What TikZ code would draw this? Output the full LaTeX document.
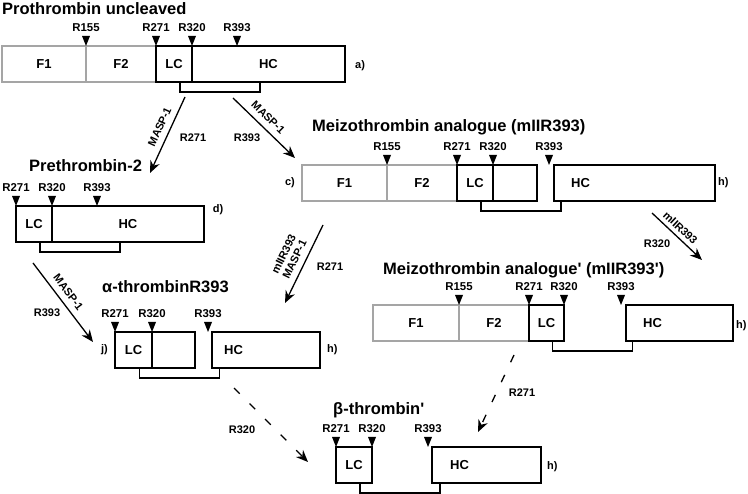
\documentclass[tikz,border=0pt]{standalone}
\usepackage{fontspec}
\setmainfont{Liberation Sans}
\usetikzlibrary{positioning,arrows.meta}
\definecolor{fragGray}{RGB}{165,165,165}

\begin{document}
\begin{tikzpicture}[x=1pt,y=-1pt,
  gseg/.style={draw=fragGray,line width=1.3pt,minimum height=36pt,inner sep=0pt,outer sep=0pt,font=\fontsize{13}{15}\selectfont\bfseries},
  bseg/.style={gseg,draw=black},
  segtxt/.style={inner sep=0pt,font=\fontsize{13}{15}\selectfont\bfseries},
  title/.style={anchor=west,inner sep=0pt,font=\fontsize{16.5}{19}\selectfont\bfseries},
  site/.style={inner sep=0pt,font=\fontsize{11.4}{13}\selectfont\bfseries},
  tag/.style={inner sep=0pt,font=\fontsize{11}{13}\selectfont\bfseries},
  enz/.style={sloped,above,inner sep=6pt,align=center,font=\fontsize{11}{12}\selectfont\bfseries},
  link/.style={line width=1.3pt},
  cleave/.style={line width=1.3pt,-{Stealth[length=12pt,width=10pt]}},
  slow/.style={cleave,dash pattern=on 8pt off 14pt}]
\useasboundingbox (0,0) rectangle (748,494);

% a) prothrombin
\node[title] (tA) at (2,9) {Prothrombin uncleaved};
\node[gseg,minimum width=84pt,anchor=north west] (aF1) at (2,46) {F1};
\node[gseg,minimum width=70pt,right=0pt of aF1] (aF2) {F2};
\node[bseg,minimum width=36pt,right=0pt of aF2] (aLC) {LC};
\node[bseg,minimum width=153pt,right=0pt of aLC] (aHC) {HC};
\node[tag,right=10pt of aHC,yshift=-2pt] (aLbl) {a)};
\foreach \x/\s in {86/R155,156/R271,192/R320,237/R393}{
  \fill (\x,46) -- ++(-4,-10) -- ++(8,0) -- cycle;
  \node[site] (a\s) at (\x,27.5) {\s};
}
\draw[link] ([xshift=6pt]aLC.south) -- ++(0,10) -- ++(80,0) -- ++(0,-10);

% d) prethrombin-2
\node[title] (tD) at (29,166) {Prethrombin-2};
\node[bseg,minimum width=36pt,anchor=north west] (dLC) at (16,206) {LC};
\node[bseg,minimum width=152pt,right=0pt of dLC] (dHC) {HC};
\node[tag] (dLbl) at (218,210) {d)};
\foreach \x/\s in {16/R271,52/R320,97/R393}{
  \fill (\x,206) -- ++(-4,-10) -- ++(8,0) -- cycle;
  \node[site] (d\s) at (\x,187.5) {\s};
}
\draw[link] ([xshift=6pt]dLC.south) -- ++(0,10) -- ++(80,0) -- ++(0,-10);

% c) meizothrombin analogue
\node[title] (tC) at (312,127) {Meizothrombin analogue (mIIR393)};
\node[gseg,minimum width=85pt,anchor=north west] (cF1) at (302,165) {F1};
\node[gseg,minimum width=70pt,right=0pt of cF1] (cF2) {F2};
\node[bseg,minimum width=36pt,right=0pt of cF2] (cLC) {LC};
\node[bseg,minimum width=44pt,right=0pt of cLC] (cGap) {};
\node[bseg,minimum width=161pt,anchor=north west] (cHC) at (554,165) {};
\node[segtxt,right=17pt of cHC.west] (cHCt) {HC};
\node[tag,left=7pt of cF1] (cLbl) {c)};
\node[tag,right=3pt of cHC] (cLbl2) {h)};
\foreach \x/\s in {387/R155,457/R271,493/R320,549/R393}{
  \fill (\x,165) -- ++(-4,-10) -- ++(8,0) -- cycle;
  \node[site] (c\s) at (\x,146.5) {\s};
}
\draw[link] ([xshift=6pt]cLC.south) -- ++(0,10) -- ++(80,0) -- ++(0,-10);

% mIIR393'
\node[title] (tP) at (383,270) {Meizothrombin analogue\textquotesingle{} (mIIR393\textquotesingle)};
\node[gseg,minimum width=86pt,anchor=north west] (pF1) at (373,305) {F1};
\node[gseg,minimum width=70pt,right=0pt of pF1] (pF2) {F2};
\node[bseg,minimum width=35pt,right=0pt of pF2] (pLC) {LC};
\node[bseg,minimum width=107pt,anchor=north west] (pHC) at (626,305) {};
\node[segtxt,right=17pt of pHC.west] (pHCt) {HC};
\node[tag,right=3pt of pHC,yshift=-3pt] (pLbl) {h)};
\foreach \x/\s in {459/R155,529/R271,564/R320,621/R393}{
  \fill (\x,305) -- ++(-4,-10) -- ++(8,0) -- cycle;
  \node[site] (p\s) at (\x,286.5) {\s};
}
\draw[link] ([xshift=6pt]pLC.south) -- ++(0,10) -- ++(80,0) -- ++(0,-10);

% j) alpha-thrombin
\node[title] (tJ) at (102,287) {α-thrombinR393};
\node[bseg,minimum width=37pt,anchor=north west] (jLC) at (115,332) {LC};
\node[bseg,minimum width=43pt,right=0pt of jLC] (jGap) {};
\node[bseg,minimum width=108pt,anchor=north west] (jHC) at (212,332) {};
\node[segtxt,right=12pt of jHC.west] (jHCt) {HC};
\node[tag,left=7pt of jLC] (jLbl) {j)};
\node[tag,right=7pt of jHC] (jLbl2) {h)};
\foreach \x/\s in {115/R271,152/R320,208/R393}{
  \fill (\x,332) -- ++(-4,-10) -- ++(8,0) -- cycle;
  \node[site] (j\s) at (\x,313.5) {\s};
}
\draw[link] ([xshift=6pt]jLC.south) -- ++(0,10) -- ++(80,0) -- ++(0,-10);

% beta-thrombin'
\node[title] (tB) at (333,410) {β-thrombin\textquotesingle};
\node[bseg,minimum width=36pt,anchor=north west] (bLC) at (336,447) {LC};
\node[bseg,minimum width=109pt,anchor=north west] (bHC) at (432,447) {};
\node[segtxt,right=18pt of bHC.west] (bHCt) {HC};
\node[tag,right=6pt of bHC,yshift=-2pt] (bLbl) {h)};
\foreach \x/\s in {336/R271,372/R320,428/R393}{
  \fill (\x,447) -- ++(-4,-10) -- ++(8,0) -- cycle;
  \node[site] (b\s) at (\x,428.5) {\s};
}
\draw[link] ([xshift=6pt]bLC.south) -- ++(0,10) -- ++(80,0) -- ++(0,-10);

% cleavage steps
\coordinate (s1) at (185,97);  \coordinate (e1) at (150,173);
\coordinate (s2) at (233,98);  \coordinate (e2) at (295,158);
\coordinate (s3) at (33,263);  \coordinate (e3) at (93,342);
\coordinate (s4) at (323,225); \coordinate (e4) at (285,303);
\coordinate (s5) at (652,213); \coordinate (e5) at (702,260);
\coordinate (s6) at (514,355); \coordinate (e6) at (478,432);
\coordinate (s7) at (234,388); \coordinate (e7) at (308,462);
\draw[cleave] (s1) -- (e1) node[enz,pos=.45] (m1) {MASP-1};
\draw[cleave] (s2) -- (e2) node[enz,pos=.45] (m2) {MASP-1};
\draw[cleave] (s3) -- (e3) node[enz,pos=.45] (m3) {MASP-1};
\draw[cleave] (s4) -- (e4) node[enz,pos=.5] (m4) {mIIR393\\MASP-1};
\draw[cleave] (s5) -- (e5) node[enz,pos=.45,inner sep=4pt] (m5) {mIIR393};
\draw[slow] (s6) -- (e6);
\draw[slow] (s7) -- (e7);
\node[tag] (r1) at (193,138) {R271};
\node[tag] (r2) at (247,138) {R393};
\node[tag] (r3) at (47,313) {R393};
\node[tag] (r4) at (330,267) {R271};
\node[tag] (r5) at (657,244) {R320};
\node[tag] (r6) at (522,393) {R271};
\node[tag] (r7) at (242,430) {R320};
\end{tikzpicture}
\end{document}
